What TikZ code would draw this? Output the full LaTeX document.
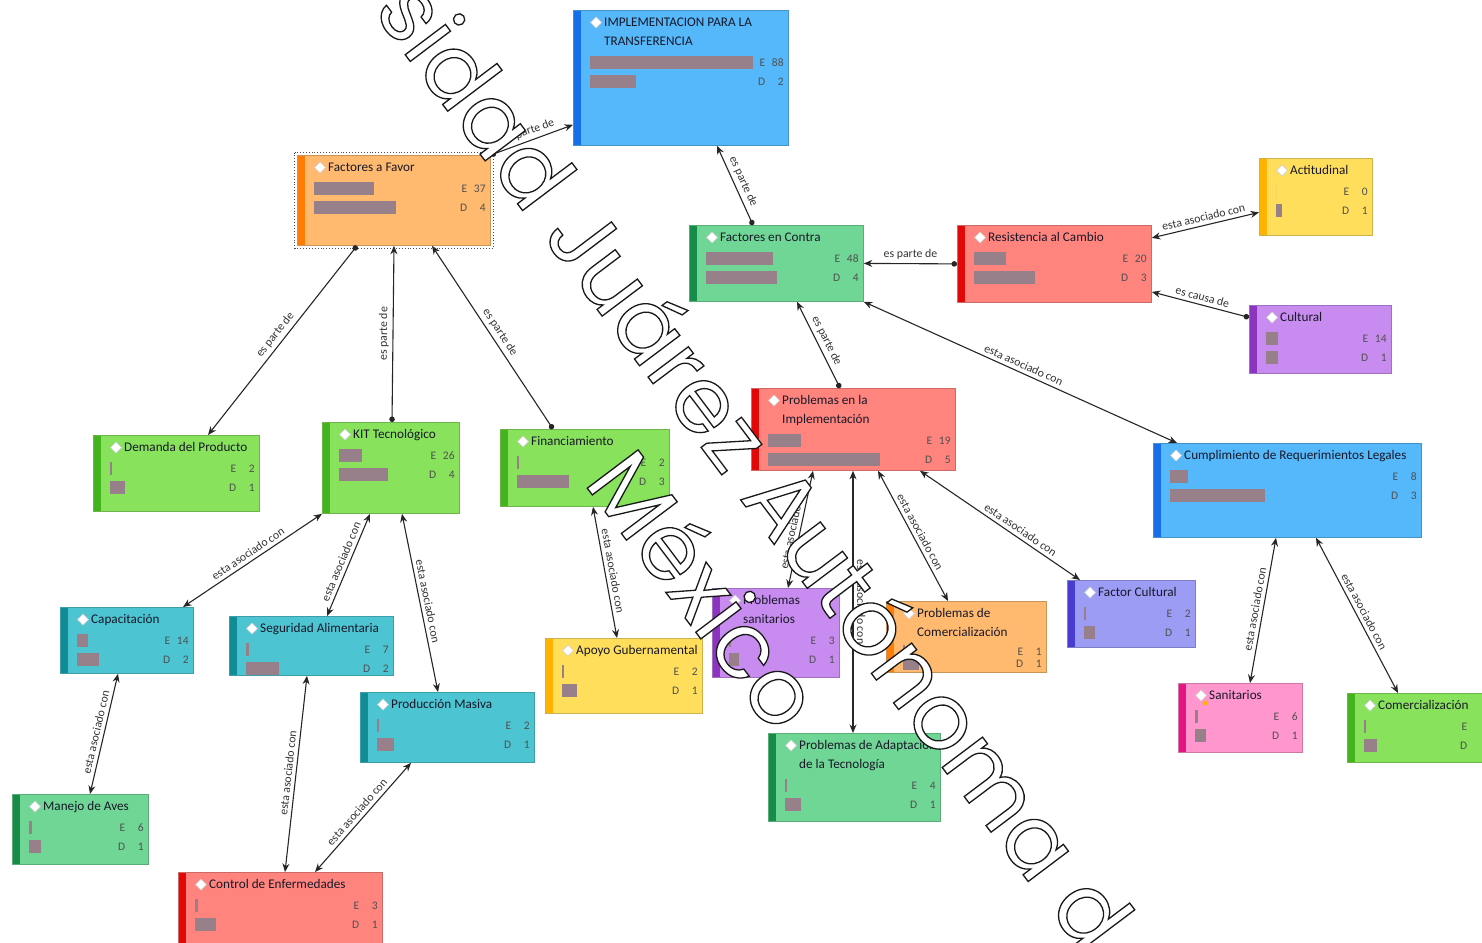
\documentclass[tikz,border=0pt]{standalone}
\usepackage{fontspec}
\setmainfont{Carlito}
\newfontfamily\markfont{Poppins}
\usetikzlibrary{arrows.meta}

\definecolor{fillBlue}{RGB}{84,184,250}
\definecolor{edgeBlue}{RGB}{22,110,232}
\definecolor{fillOrange}{RGB}{255,186,112}
\definecolor{edgeOrange}{RGB}{255,125,5}
\definecolor{fillMint}{RGB}{112,214,150}
\definecolor{edgeMint}{RGB}{22,140,72}
\definecolor{fillSalmon}{RGB}{255,132,126}
\definecolor{edgeSalmon}{RGB}{226,8,8}
\definecolor{fillYellow}{RGB}{255,222,92}
\definecolor{edgeYellow}{RGB}{255,178,0}
\definecolor{fillViolet}{RGB}{200,140,240}
\definecolor{edgeViolet}{RGB}{140,52,192}
\definecolor{fillLime}{RGB}{136,226,92}
\definecolor{edgeLime}{RGB}{68,180,30}
\definecolor{fillTeal}{RGB}{76,196,210}
\definecolor{edgeTeal}{RGB}{16,140,150}
\definecolor{fillLav}{RGB}{156,156,245}
\definecolor{edgeLav}{RGB}{72,60,210}
\definecolor{fillPink}{RGB}{255,150,206}
\definecolor{edgePink}{RGB}{230,20,130}
\definecolor{redact}{RGB}{152,128,138}
\definecolor{inkT}{RGB}{24,24,40}
\definecolor{inkC}{RGB}{80,80,80}

\tikzset{
  scheme/.style 2 args={fill=#1, draw=#1!80!black,
    path picture={\fill[#2] (path picture bounding box.north west) rectangle ([xshift=8pt]path picture bounding box.south west);}},
  c-blue/.style={scheme={fillBlue}{edgeBlue}},
  c-orange/.style={scheme={fillOrange}{edgeOrange}},
  c-mint/.style={scheme={fillMint}{edgeMint}},
  c-salmon/.style={scheme={fillSalmon}{edgeSalmon}},
  c-yellow/.style={scheme={fillYellow}{edgeYellow}},
  c-violet/.style={scheme={fillViolet}{edgeViolet}},
  c-lime/.style={scheme={fillLime}{edgeLime}},
  c-teal/.style={scheme={fillTeal}{edgeTeal}},
  c-lav/.style={scheme={fillLav}{edgeLav}},
  c-pink/.style={scheme={fillPink}{edgePink}},
  codebox/.style={rectangle, inner sep=0pt, line width=0.8pt, anchor=north west},
  boxtitle/.style={anchor=north west, inner sep=0pt, align=left, text=inkT,
    font=\fontsize{13.2}{19}\selectfont},
  tally/.style={anchor=east, inner sep=0pt, text=inkC, font=\fontsize{11.5}{13}\selectfont},
  redbar/.style={fill=redact},
  icon/.style={fill=white, draw=gray!35, line width=0.7pt},
  link/.style={line width=1.1pt, draw=black!85},
  rel/.style={midway, sloped, above=2pt, inner sep=1.5pt, text=black!80, font=\fontsize{11.8}{13}\selectfont},
  wmark/.style={inner sep=0pt, rotate=-53, text=white, font=\markfont\fontsize{92}{92}\selectfont},
}

% white letters with a thin dark outline
\newcommand{\outlined}[1]{\special{pdf:literal direct 0.1 G 2 Tr 1.3 w}#1\special{pdf:literal direct 0 Tr}}

% one code box: name, corner, options, title, E, D, bar widths
\def\rowone{11.3}
\def\rowgap{19}
\newcommand{\codebox}[7]{%
  \node[codebox, #3] (#1) at #2 {};
  \draw[icon] ([xshift=23pt,yshift=-7pt]#1.north west) -- ++(5.5,5.5) -- ++(-5.5,5.5) -- ++(-5.5,-5.5) -- cycle;
  \node[boxtitle] (#1-t) at ([xshift=31pt,yshift=-3.2pt]#1.north west) {\strut #4\strut};
  \foreach \w [count=\r] in {#7}
    \fill[redbar] ([xshift=-14pt,yshift=-\rowone+6.5-\rowgap*(\r-1)]#1-t.south west) rectangle ++(\w,13);
  \node[tally] (#1-e) at ([xshift=-5pt,yshift=-\rowone]#1.east |- #1-t.south) {E\enspace\makebox[1.1em][r]{#5}};
  \node[tally] (#1-d) at ([xshift=-5pt,yshift=-\rowone-\rowgap]#1.east |- #1-t.south) {D\enspace\makebox[1.1em][r]{#6}};
}

\begin{document}
\begin{tikzpicture}[x=1pt, y=-1pt, >={Stealth[length=8.5pt,width=7pt]}]
  \useasboundingbox (0,0) rectangle (1482,942);
  \clip (0,0) rectangle (1482,942);

  % code boxes
  \codebox{impl}{(573,10)}{c-blue, minimum width=215, minimum height=135}{IMPLEMENTACION PARA LA\\TRANSFERENCIA}{88}{2}{163,46}
  \codebox{fav}{(297,155)}{c-orange, minimum width=193, minimum height=90}{Factores a Favor}{37}{4}{60,82}
  \draw[dotted, line width=0.9pt, black!70] ([xshift=-2.5pt,yshift=2.5pt]fav.north west) rectangle ([xshift=2.5pt,yshift=-2.5pt]fav.south east);
  \codebox{contra}{(689,225)}{c-mint, minimum width=174, minimum height=76}{Factores en Contra}{48}{4}{67,71}
  \codebox{res}{(957,225)}{c-salmon, minimum width=194, minimum height=77}{Resistencia al Cambio}{20}{3}{32,61}
  \codebox{act}{(1259,158)}{c-yellow, minimum width=113, minimum height=77}{Actitudinal}{0}{1}{0,6}
  \codebox{cult}{(1249,305)}{c-violet, minimum width=142, minimum height=68}{Cultural}{14}{1}{12,12}
  \codebox{dem}{(93,435)}{c-lime, minimum width=166, minimum height=76}{Demanda del Producto}{2}{1}{2,15}
  \codebox{kit}{(322,422)}{c-lime, minimum width=137, minimum height=91}{KIT Tecnológico}{26}{4}{23,49}
  \codebox{fin}{(500,429)}{c-lime, minimum width=169, minimum height=77}{Financiamiento}{2}{3}{2,52}
  \codebox{pimp}{(751,388)}{c-salmon, minimum width=204, minimum height=82}{Problemas en la\\Implementación}{19}{5}{33,112}
  \codebox{crl}{(1153,443)}{c-blue, minimum width=268, minimum height=94}{Cumplimiento de Requerimientos Legales}{8}{3}{18,95}
  \codebox{cap}{(60,607)}{c-teal, minimum width=133, minimum height=66}{Capacitación}{14}{2}{11,22}
  \codebox{seg}{(229,616)}{c-teal, minimum width=164, minimum height=59}{Seguridad Alimentaria}{7}{2}{3,33}
  \codebox{pmas}{(360,692)}{c-teal, minimum width=174, minimum height=70}{Producción Masiva}{2}{1}{2,17}
  \codebox{apoyo}{(545,638)}{c-yellow, minimum width=157, minimum height=75}{Apoyo Gubernamental}{2}{1}{2,15}
  \codebox{psan}{(712,588)}{c-violet, minimum width=127, minimum height=89}{Problemas\\sanitarios}{3}{1}{2,10}
  {\def\rowone{9}\def\rowgap{12}%
  \codebox{pcom}{(886,601)}{c-orange, minimum width=160, minimum height=71}{Problemas de\\Comercialización}{1}{1}{2,16}}
  \codebox{fcul}{(1067,580)}{c-lav, minimum width=128, minimum height=67}{Factor Cultural}{2}{1}{2,11}
  \codebox{san}{(1178,683)}{c-pink, minimum width=124, minimum height=69}{Sanitarios}{6}{1}{3,11}
  \fill[edgeYellow] ([xshift=27pt,yshift=-20pt]san.north west) circle (2.5);
  \codebox{com}{(1347,693)}{c-lime, minimum width=143, minimum height=69}{Comercialización}{}{}{2,13}
  \codebox{pada}{(768,733)}{c-mint, minimum width=172, minimum height=88}{Problemas de Adaptación\\de la Tecnología}{4}{1}{2,16}
  \codebox{manejo}{(12,794)}{c-mint, minimum width=136, minimum height=70}{Manejo de Aves}{6}{1}{3,12}
  \codebox{ctrl}{(178,872)}{c-salmon, minimum width=204, minimum height=72}{Control de Enfermedades}{3}{1}{3,21}

  % es parte de / es causa de
  \draw[link, {Circle[length=5.5pt]}->] (fav.north east) -- ([yshift=21pt]impl.south west) node[rel] (l1) {es parte de};
  \draw[link, {Circle[length=5.5pt]}->] ([xshift=64pt]contra.north west) -- ([xshift=144pt]impl.south west) node[rel] (l2) {es parte de};
  \draw[link, {Circle[length=5.5pt]}->] (res.west) -- (contra.east) node[rel] (l3) {es parte de};
  \draw[link, {Circle[length=5.5pt]}->] ([yshift=22pt]cult.west) -- ([yshift=-28pt]res.east) node[rel] (l4) {es causa de};
  \draw[link, {Circle[length=5.5pt]}->] ([xshift=89pt]pimp.north west) -- ([xshift=108pt]contra.south west) node[rel] (l5) {es parte de};
  \draw[link, {Circle[length=5.5pt]}->] ([xshift=60pt]fav.south west) -- ([xshift=115pt]dem.north west) node[rel] (l6) {es parte de};
  \draw[link, {Circle[length=5.5pt]}->] ([xshift=70pt]kit.north west) -- ([xshift=97pt]fav.south west) node[rel] (l7) {es parte de};
  \draw[link, {Circle[length=5.5pt]}->] ([xshift=53pt]fin.north west) -- ([xshift=135pt]fav.south west) node[rel] (l8) {es parte de};

  % esta asociado con
  \draw[link, <->] ([yshift=26pt]res.east) -- ([yshift=-15.5pt]act.west) node[rel] (l9) {esta asociado con};
  \draw[link, <->] (contra.south east) -- ([xshift=24pt]crl.north west) node[rel] (l10) {esta asociado con};
  \draw[link, <->] ([xshift=123pt]cap.north west) -- (kit.south west) node[rel] (l11) {esta asociado con};
  \draw[link, <->] ([xshift=98pt]seg.north west) -- ([xshift=48pt]kit.south west) node[rel] (l12) {esta asociado con};
  \draw[link, <->] ([xshift=78pt]pmas.north west) -- ([xshift=80pt]kit.south west) node[rel] (l13) {esta asociado con};
  \draw[link, <->] ([xshift=93pt]fin.south west) -- ([xshift=72pt]apoyo.north west) node[rel] (l14) {esta asociado con};
  \draw[link, <->] ([xshift=58pt]cap.south west) -- ([xshift=78pt]manejo.north west) node[rel] (l15) {esta asociado con};
  \draw[link, <->] ([xshift=78pt]seg.south west) -- ([xshift=107pt]ctrl.north west) node[rel] (l16) {esta asociado con};
  \draw[link, <->] ([xshift=137pt]ctrl.north west) -- ([xshift=51pt]pmas.south west) node[rel] (l17) {esta asociado con};
  \draw[link, <->] ([xshift=62pt]pimp.south west) -- ([xshift=76pt]psan.north west) node[rel] (l18) {esta asociado con};
  \draw[link, <->] ([xshift=102pt]pimp.south west) -- ([xshift=85pt]pada.north west) node[rel] (l19) {esta asociado con};
  \draw[link, <->] ([xshift=127pt]pimp.south west) -- ([xshift=62pt]pcom.north west) node[rel] (l20) {esta asociado con};
  \draw[link, <->] ([xshift=169pt]pimp.south west) -- ([xshift=13pt]fcul.north west) node[rel, pos=0.6] (l21) {esta asociado con};
  \draw[link, <->] ([xshift=123pt]crl.south west) -- ([xshift=72pt]san.north west) node[rel] (l22) {esta asociado con};
  \draw[link, <->] ([xshift=163pt]crl.south west) -- ([xshift=51pt]com.north west) node[rel] (l23) {esta asociado con};

  % watermark
  \node[wmark] (wm1) at (757,462) {\outlined{sidad Juárez Autónoma d}};
  \node[wmark] (wm2) at (707,588) {\outlined{México}};
\end{tikzpicture}
\end{document}
